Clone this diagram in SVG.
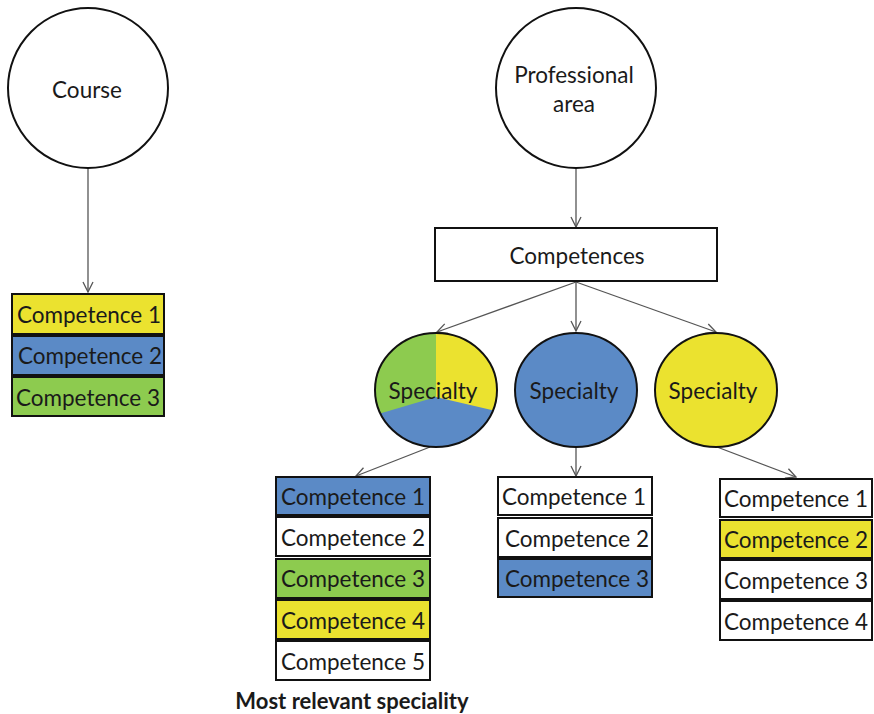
<svg xmlns="http://www.w3.org/2000/svg" width="874" height="714" viewBox="0 0 874 714">
  <style>
    .lbl { font-family: Lato, "Liberation Sans", sans-serif; font-size: 22.5px; fill: #1a1a1a; text-anchor: middle; dominant-baseline: central; }
    .node { stroke: #111; stroke-width: 2; }
    .conn { stroke: #555; stroke-width: 1.3; fill: none; marker-end: url(#arr); }
    .y { fill: #ebe22f; } .b { fill: #5b8ac6; } .g { fill: #8dcb4f; } .w { fill: #fff; }
  </style>
  <defs>
    <marker id="arr" viewBox="0 0 12 12" refX="11" refY="6" markerWidth="12" markerHeight="12" markerUnits="userSpaceOnUse" orient="auto">
      <path d="M1,1 L11,6 L1,11" fill="none" stroke="#555" stroke-width="1.3"/>
    </marker>
    <clipPath id="pieclip"><ellipse cx="436" cy="390" rx="61" ry="57"/></clipPath>
  </defs>
  <rect width="874" height="714" fill="#fff"/>

  <g id="connectors">
    <line class="conn" x1="88" y1="168" x2="88" y2="292"/>
    <line class="conn" x1="576" y1="168" x2="576" y2="227"/>
    <line class="conn" x1="576" y1="282" x2="437" y2="332"/>
    <line class="conn" x1="576" y1="282" x2="576" y2="331"/>
    <line class="conn" x1="576" y1="282" x2="716" y2="332"/>
    <line class="conn" x1="430" y1="447" x2="356" y2="476"/>
    <line class="conn" x1="576" y1="447" x2="576" y2="476"/>
    <line class="conn" x1="717" y1="447" x2="796" y2="477"/>
  </g>

  <g id="course">
    <circle class="node w" cx="88" cy="88" r="80"/>
    <text class="lbl" x="87" y="89">Course</text>
  </g>
  <g id="course-competences">
    <rect class="node y" x="12" y="294" width="152" height="40"/>
    <text class="lbl" x="89" y="314">Competence 1</text>
    <rect class="node b" x="12" y="336" width="152" height="39"/>
    <text class="lbl" x="90" y="355">Competence 2</text>
    <rect class="node g" x="12" y="377" width="152" height="39"/>
    <text class="lbl" x="88" y="397">Competence 3</text>
  </g>

  <g id="professional-area">
    <circle class="node w" cx="576" cy="88" r="80"/>
    <text class="lbl" x="574" y="74">Professional</text>
    <text class="lbl" x="574" y="103">area</text>
  </g>
  <g id="competences">
    <rect class="node w" x="435" y="228" width="282" height="53"/>
    <text class="lbl" x="577" y="255">Competences</text>
  </g>

  <g id="specialty-mixed">
    <g clip-path="url(#pieclip)">
      <rect class="b" x="370" y="330" width="132" height="122"/>
      <path class="g" d="M436,330 L436,397 L372,416 L372,330 Z"/>
      <path class="y" d="M436,330 L436,397 L500,412 L500,330 Z"/>
    </g>
    <ellipse cx="436" cy="390" rx="61" ry="57" fill="none" stroke="#111" stroke-width="2"/>
    <text class="lbl" x="433" y="390">Specialty</text>
  </g>
  <g id="specialty-blue">
    <ellipse class="node b" cx="576" cy="390" rx="61" ry="57"/>
    <text class="lbl" x="574" y="390">Specialty</text>
  </g>
  <g id="specialty-yellow">
    <ellipse class="node y" cx="716" cy="390" rx="61" ry="57"/>
    <text class="lbl" x="713" y="390">Specialty</text>
  </g>

  <g id="list-left">
    <rect class="node b" x="276" y="477" width="154" height="38"/>
    <text class="lbl" x="353" y="496">Competence 1</text>
    <rect class="node w" x="276" y="517" width="154" height="39"/>
    <text class="lbl" x="353" y="537">Competence 2</text>
    <rect class="node g" x="276" y="559" width="154" height="39"/>
    <text class="lbl" x="353" y="578">Competence 3</text>
    <rect class="node y" x="276" y="600" width="154" height="39"/>
    <text class="lbl" x="353" y="620">Competence 4</text>
    <rect class="node w" x="276" y="641" width="154" height="39"/>
    <text class="lbl" x="353" y="661">Competence 5</text>
  </g>
  <text x="352" y="700" font-family="Lato, 'Liberation Sans', sans-serif" font-size="22" font-weight="bold" fill="#1a1a1a" text-anchor="middle" dominant-baseline="central">Most relevant speciality</text>

  <g id="list-center">
    <rect class="node w" x="498" y="477" width="154" height="38"/>
    <text class="lbl" x="574" y="496">Competence 1</text>
    <rect class="node w" x="498" y="518" width="154" height="39"/>
    <text class="lbl" x="577" y="538">Competence 2</text>
    <rect class="node b" x="498" y="559" width="154" height="38"/>
    <text class="lbl" x="577" y="578">Competence 3</text>
  </g>

  <g id="list-right">
    <rect class="node w" x="720" y="479" width="152" height="38"/>
    <text class="lbl" x="796" y="498">Competence 1</text>
    <rect class="node y" x="720" y="520" width="152" height="38"/>
    <text class="lbl" x="796" y="539">Competence 2</text>
    <rect class="node w" x="720" y="560" width="152" height="39"/>
    <text class="lbl" x="796" y="580">Competence 3</text>
    <rect class="node w" x="720" y="601" width="152" height="39"/>
    <text class="lbl" x="796" y="621">Competence 4</text>
  </g>
</svg>
